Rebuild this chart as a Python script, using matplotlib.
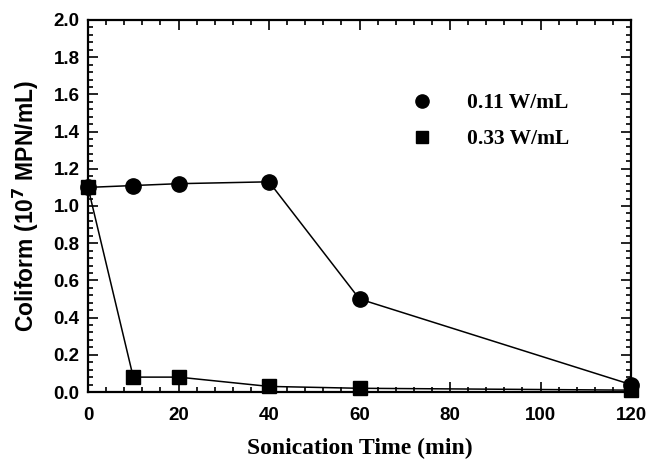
import matplotlib
matplotlib.use("Agg")
import matplotlib.pyplot as plt
from matplotlib.lines import Line2D
from matplotlib.ticker import MultipleLocator

time_min = [0, 10, 20, 40, 60, 120]
coliform_011 = [1.10, 1.11, 1.12, 1.13, 0.50, 0.04]
coliform_033 = [1.10, 0.08, 0.08, 0.03, 0.02, 0.01]
series_labels = ["0.11 W/mL", "0.33 W/mL"]

fig = plt.figure(figsize=(6.52, 4.65), dpi=100)
ax = fig.add_axes([88/652, 73/465, 543/652, 372/465])

ax.plot(time_min, coliform_011, color="black", lw=1.1, marker="o", ms=11, zorder=3, clip_on=False)
ax.plot(time_min, coliform_033, color="black", lw=1.1, marker="s", ms=9.5, zorder=3, clip_on=False)

ax.set_xlim(0, 120)
ax.set_ylim(0, 2.0)
ax.xaxis.set_major_locator(MultipleLocator(20))
ax.xaxis.set_minor_locator(MultipleLocator(4))
ax.yaxis.set_major_locator(MultipleLocator(0.2))
ax.yaxis.set_minor_locator(MultipleLocator(0.04))
ax.tick_params(which="both", direction="in", top=True, right=True, width=1.2, color="black")
ax.tick_params(which="major", length=7)
ax.tick_params(which="minor", length=3.5)
ax.tick_params(axis="x", which="major", pad=11)
ax.tick_params(axis="y", which="major", pad=6)
ax.set_xticks(ax.get_xticks())
ax.set_xticklabels([f"{int(v)}" for v in ax.get_xticks()], fontfamily="Liberation Sans", fontweight="bold", fontsize=13.5)
ax.set_yticks(ax.get_yticks())
ax.set_yticklabels([f"{v:.1f}" for v in ax.get_yticks()], fontfamily="Liberation Sans", fontweight="bold", fontsize=13.5)
ax.set_xlim(0, 120)
ax.set_ylim(0, 2.0)
for s in ax.spines.values():
    s.set_linewidth(1.6)

ax.set_xlabel("Sonication Time (min)", fontfamily="Liberation Serif", fontweight="bold", fontsize=17, labelpad=10)
ax.set_ylabel("Coliform (10$^{\\mathbf{7}}$ MPN/mL)", fontfamily="Liberation Sans", fontweight="bold", fontsize=16.5, labelpad=9)

handles = [Line2D([], [], color="black", marker="o", ls="none", ms=9.5),
           Line2D([], [], color="black", marker="s", ls="none", ms=8)]
ax.legend(handles, series_labels, loc="center left", bbox_to_anchor=(0.556, 0.728),
          frameon=False, handlelength=1.2, handletextpad=1.5, labelspacing=0.75,
          prop={"family": "Liberation Serif", "weight": "bold", "size": 15.5})

fig.savefig("out.png", dpi=100)
